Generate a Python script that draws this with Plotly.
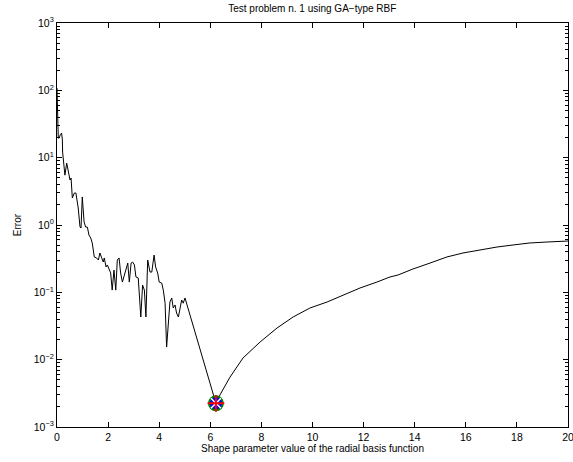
import plotly.graph_objects as go

# Shape parameter values (x) and errors (y)
shape_param = [0, 0.02, 0.05, 0.09, 0.13, 0.18, 0.21, 0.22, 0.25, 0.31, 0.38, 0.44, 0.51, 0.55,
               0.60, 0.68, 0.74, 0.83, 0.90, 0.94, 0.99, 1.06, 1.12, 1.19, 1.25, 1.32, 1.38,
               1.46, 1.55, 1.62, 1.68, 1.75, 1.81, 1.85, 1.92, 1.97, 2.04, 2.10, 2.16, 2.23,
               2.30, 2.36, 2.43, 2.49, 2.56, 2.62, 2.69, 2.77, 2.83, 2.90, 2.96, 3.03, 3.09,
               3.18, 3.28, 3.35, 3.42, 3.48, 3.55, 3.64, 3.71, 3.80, 3.86, 3.94, 4.00, 4.10,
               4.16, 4.23, 4.29, 4.38, 4.42, 4.49, 4.55, 4.62, 4.68, 4.75, 4.81, 4.88, 4.94,
               5.01,
               6.22, 6.38, 6.77, 7.28, 7.95, 8.61, 9.24, 9.90, 10.57, 11.19, 11.86, 12.52,
               13.03, 13.35, 13.93, 14.60, 15.26, 15.89, 16.56, 17.22, 17.85, 18.51, 19.18,
               20.0]
error = [108, 40, 19.5, 19.6, 22, 23.2, 18.3, 12.1, 9.2, 5.5, 8.3, 5.9, 4.66, 4.99,
         2.52, 2.99, 2.99, 1.79, 0.933, 0.902, 2.61, 1.11, 0.933, 0.93, 0.71, 0.641, 0.54,
         0.335, 0.324, 0.302, 0.384, 0.324, 0.282, 0.324, 0.238, 0.255, 0.214, 0.194, 0.108, 0.214,
         0.108, 0.302, 0.324, 0.194, 0.142, 0.169, 0.200, 0.272, 0.142, 0.272, 0.282, 0.255, 0.169,
         0.163, 0.043, 0.128, 0.108, 0.043, 0.302, 0.200, 0.200, 0.358, 0.238, 0.194, 0.142, 0.137,
         0.108, 0.069, 0.0154, 0.0585, 0.0718, 0.0824, 0.0585, 0.0649, 0.0493, 0.043, 0.0546, 0.0769, 0.069,
         0.0824,
         0.00225, 0.0030, 0.0055, 0.0106, 0.0183, 0.0295, 0.043, 0.0585, 0.0718, 0.0912, 0.116, 0.142,
         0.169, 0.181, 0.222, 0.272, 0.335, 0.384, 0.426, 0.471, 0.505, 0.541, 0.559, 0.578]

best_shape = [6.22]
best_error = [0.00225]

x_ticks = [0, 2, 4, 6, 8, 10, 12, 14, 16, 18, 20]
y_exponents = [-3, -2, -1, 0, 1, 2, 3]
y_ticks = [10.0 ** e for e in y_exponents]
y_ticktext = ["10<sup>" + str(e).replace("-", "\u2212") + "</sup>" for e in y_exponents]
y_minor = [m * 10.0 ** e for e in y_exponents[:-1] for m in range(2, 10)]

FONT = "Liberation Sans, Arial, Helvetica, sans-serif"

fig = go.Figure()
fig.add_trace(go.Scatter(x=shape_param, y=error, mode="lines",
                         line=dict(color="black", width=1), showlegend=False))
# optimum marker: circle + x + plus layered
fig.add_trace(go.Scatter(x=best_shape, y=best_error, mode="markers", showlegend=False,
                         marker=dict(symbol="circle", size=14, color="blue",
                                     line=dict(color="green", width=2))))
fig.add_trace(go.Scatter(x=best_shape, y=best_error, mode="markers", showlegend=False,
                         marker=dict(symbol="x-thin", size=10,
                                     line=dict(color="white", width=1.5))))
fig.add_trace(go.Scatter(x=best_shape, y=best_error, mode="markers", showlegend=False,
                         marker=dict(symbol="cross-thin", size=12,
                                     line=dict(color="red", width=2))))

fig.update_layout(
    width=573, height=462,
    margin=dict(l=57, r=5, t=23, b=35, autoexpand=False),
    paper_bgcolor="white", plot_bgcolor="white",
    font=dict(family=FONT, size=10, color="black"),
    title=dict(text="Test problem n. 1 using GA\u2212type RBF", x=0.545, xanchor="center",
               y=0.982, yanchor="middle", font=dict(family=FONT, size=10, color="black")),
    xaxis=dict(range=[0, 20], tickvals=x_ticks, ticktext=[str(v) for v in x_ticks],
               ticks="inside", ticklen=5, tickwidth=1, ticklabeloverflow="allow",
               automargin=False,
               tickcolor="black", showline=True, linecolor="black", linewidth=1.2,
               mirror="ticks", showgrid=False, zeroline=False,
               tickfont=dict(family=FONT, size=10.5, color="black"),
               title=dict(text="Shape parameter value of the radial basis function",
                          standoff=2, font=dict(family=FONT, size=10, color="black"))),
    yaxis=dict(type="log", range=[-3, 3], tickvals=y_ticks, ticktext=y_ticktext,
               ticks="inside", ticklen=5, tickwidth=1, tickcolor="black",
               showline=True, linecolor="black", linewidth=1.2, mirror="ticks",
               showgrid=False, zeroline=False, ticklabeloverflow="allow",
               automargin=False,
               minor=dict(ticks="inside", ticklen=3, tickwidth=1, tickcolor="black",
                          tickvals=y_minor, showgrid=False),
               tickfont=dict(family=FONT, size=10.5, color="black"),
               title=dict(text="Error", standoff=10, font=dict(family=FONT, size=10, color="black"))),
)

fig.write_html("out.html")
